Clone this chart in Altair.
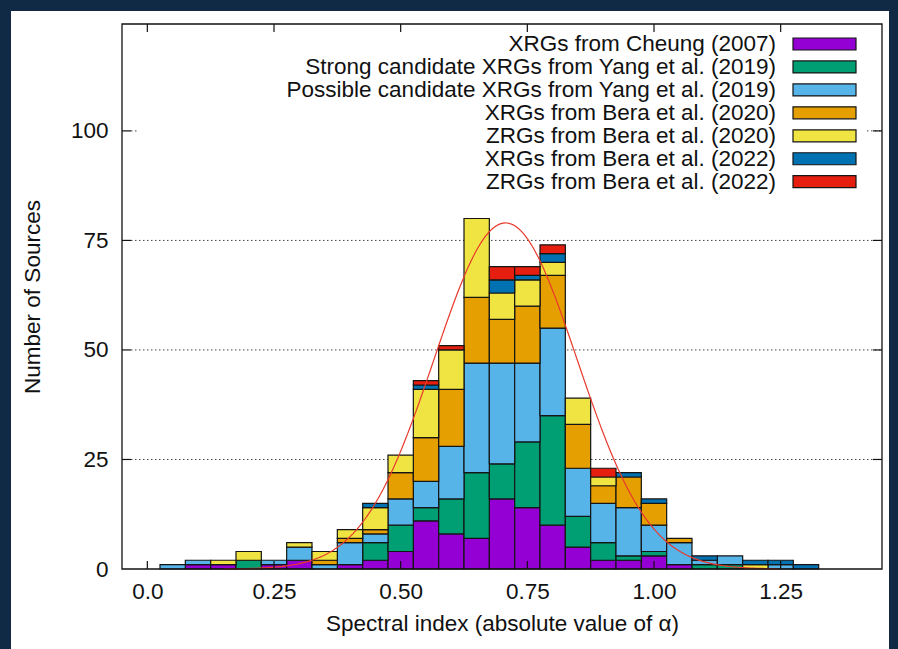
import altair as alt
import pandas as pd

# ---- data -------------------------------------------------------------
BIN_CENTERS = [0.05, 0.10, 0.15, 0.20, 0.25, 0.30, 0.35, 0.40, 0.45, 0.50,
               0.55, 0.60, 0.65, 0.70, 0.75, 0.80, 0.85, 0.90, 0.95, 1.00,
               1.05, 1.10, 1.15, 1.20, 1.25, 1.30]
BIN_WIDTH = 0.05

SERIES = [
    "XRGs from Cheung (2007)",
    "Strong candidate XRGs from Yang et al. (2019)",
    "Possible candidate XRGs from Yang et al. (2019)",
    "XRGs from Bera et al. (2020)",
    "ZRGs from Bera et al. (2020)",
    "XRGs from Bera et al. (2022)",
    "ZRGs from Bera et al. (2022)",
]
COLORS = ["#9400d3", "#009e73", "#56b4e9", "#e69f00", "#f0e442", "#0072b2", "#e51e10"]

cheung_2007 = [0, 1, 1, 0, 1, 2, 0, 1, 2, 4, 11, 8, 7, 16, 14, 10, 5, 2, 2, 3, 1, 0, 0, 0, 0, 0]
yang_strong = [0, 0, 0, 2, 0, 0, 0, 0, 4, 6, 3, 8, 15, 8, 15, 25, 7, 4, 1, 1, 0, 1, 1, 0, 0, 0]
yang_possible = [1, 1, 0, 0, 1, 3, 1, 5, 2, 6, 6, 12, 25, 23, 18, 20, 11, 9, 11, 6, 5, 1, 2, 0, 1, 0]
bera20_xrg = [0, 0, 0, 0, 0, 0, 1, 1, 1, 6, 10, 13, 15, 10, 13, 12, 10, 4, 7, 5, 1, 0, 0, 0, 0, 0]
bera20_zrg = [0, 0, 1, 2, 0, 1, 2, 2, 5, 4, 11, 9, 18, 6, 6, 3, 6, 2, 0, 0, 0, 0, 0, 1, 0, 0]
bera22_xrg = [0, 0, 0, 0, 0, 0, 0, 0, 1, 0, 1, 0, 0, 3, 1, 2, 0, 0, 1, 1, 0, 1, 0, 1, 1, 1]
bera22_zrg = [0, 0, 0, 0, 0, 0, 0, 0, 0, 0, 1, 1, 0, 3, 2, 2, 0, 2, 0, 0, 0, 0, 0, 0, 0, 0]
COUNTS = [cheung_2007, yang_strong, yang_possible, bera20_xrg, bera20_zrg, bera22_xrg, bera22_zrg]

# Gaussian fit to the total distribution
FIT_PEAK = 79.0
FIT_MEAN = 0.707
FIT_SIGMA = 0.141

X_TICKS = [0.0, 0.25, 0.50, 0.75, 1.00, 1.25]
Y_TICKS = [0, 25, 50, 75, 100]
X_DOMAIN = [-0.05, 1.45]
Y_DOMAIN = [0, 124.4]

# ---- layout -----------------------------------------------------------
W, H = 760, 545
FONT = "Liberation Sans"
FS = 22.5
KEY_FS = 22.5
NAVY = "#102a46"

rows = []
for order, (name, vals) in enumerate(zip(SERIES, COUNTS)):
    for c, n in zip(BIN_CENTERS, vals):
        rows.append({"center": c, "series": name, "order": order, "n": n})
hist = pd.DataFrame(rows)

xs = alt.Scale(domain=X_DOMAIN, nice=False, zero=False)
ys = alt.Scale(domain=Y_DOMAIN, nice=False, zero=False)
one = alt.Data(values=[{}])

# navy border strips round the white page (left, top, right)
border = [
    alt.Chart(one).mark_rect(color=NAVY).encode(
        x=alt.value(-122), x2=alt.value(-111), y=alt.value(-24), y2=alt.value(H + 80)),
    alt.Chart(one).mark_rect(color=NAVY).encode(
        x=alt.value(-122), x2=alt.value(W + 16), y=alt.value(-24), y2=alt.value(-13)),
    alt.Chart(one).mark_rect(color=NAVY).encode(
        x=alt.value(767), x2=alt.value(W + 16), y=alt.value(-24), y2=alt.value(H + 80)),
]

grid = alt.Chart(pd.DataFrame({"v": Y_TICKS[1:]})).mark_rule(
    color="#444", strokeWidth=1, strokeDash=[1.5, 2.5]
).encode(y=alt.Y("v:Q", scale=ys), x=alt.value(9), x2=alt.value(W))

# opaque key box
key_box = alt.Chart(one).mark_rect(color="white").encode(
    x=alt.value(17), x2=alt.value(744), y=alt.value(2), y2=alt.value(170)
)

bars = (
    alt.Chart(hist)
    .transform_filter(alt.datum.n > 0)
    .transform_stack(stack="n", groupby=["center"], sort=[alt.SortField("order")], as_=["y0", "y1"])
    .transform_calculate(x0=f"datum.center - {BIN_WIDTH / 2}", x1=f"datum.center + {BIN_WIDTH / 2}")
    .mark_rect(stroke="#151515", strokeWidth=1.2)
    .encode(
        x=alt.X("x0:Q", scale=xs),
        x2="x1:Q",
        y=alt.Y("y0:Q", scale=ys),
        y2="y1:Q",
        color=alt.Color("series:N", scale=alt.Scale(domain=SERIES, range=COLORS), legend=None),
    )
)

fit = (
    alt.Chart(alt.sequence(0.15, 1.25, 0.004, as_="a"))
    .transform_calculate(
        g=f"{FIT_PEAK} * exp(-pow(datum.a - {FIT_MEAN}, 2) / (2 * {FIT_SIGMA} * {FIT_SIGMA}))"
    )
    .mark_line(color="#e8392c", strokeWidth=1.2)
    .encode(x=alt.X("a:Q", scale=xs), y=alt.Y("g:Q", scale=ys))
)

frame = alt.Chart(one).mark_rect(fillOpacity=0, stroke="#111", strokeWidth=1.3).encode(
    x=alt.value(0), x2=alt.value(W), y=alt.value(0), y2=alt.value(H)
)

xt = pd.DataFrame({"v": X_TICKS})
yt = pd.DataFrame({"v": Y_TICKS[1:]})
tick_style = dict(color="#111", strokeWidth=1.2)
ticks = [
    alt.Chart(xt).mark_rule(**tick_style).encode(
        x=alt.X("v:Q", scale=xs), y=alt.value(H), y2=alt.value(H - 8)),
    alt.Chart(xt).mark_rule(**tick_style).encode(
        x=alt.X("v:Q", scale=xs), y=alt.value(0), y2=alt.value(8)),
    alt.Chart(yt).mark_rule(**tick_style).encode(
        y=alt.Y("v:Q", scale=ys), x=alt.value(0), x2=alt.value(9)),
    alt.Chart(yt).mark_rule(**tick_style).encode(
        y=alt.Y("v:Q", scale=ys), x=alt.value(W - 9), x2=alt.value(W)),
]

# key: right-aligned labels with colour swatches to their right
key_layers = []
for i, (name, col) in enumerate(zip(SERIES, COLORS)):
    yc = 20 + 22.95 * i
    key_layers.append(
        alt.Chart(alt.Data(values=[{"label": name}])).mark_text(
            align="right", baseline="middle", font=FONT, fontSize=KEY_FS, color="#111"
        ).encode(text="label:N", x=alt.value(654), y=alt.value(yc))
    )
    key_layers.append(
        alt.Chart(one).mark_rect(color=col, stroke="#151515", strokeWidth=1.2).encode(
            x=alt.value(671), x2=alt.value(734), y=alt.value(yc - 6), y2=alt.value(yc + 6)
        )
    )

chart = (
    alt.layer(*border, grid, key_box, bars, fit, frame, *ticks, *key_layers)
    .encode(
        x=alt.X(
            "x0:Q", scale=xs,
            axis=alt.Axis(
                values=X_TICKS, title="Spectral index (absolute value of α)",
                labelExpr="datum.value == 0 ? '0.0' : format(datum.value, '.2f')",
                labelPadding=11, titlePadding=10,
            ),
        ),
        y=alt.Y(
            "y0:Q", scale=ys,
            axis=alt.Axis(values=Y_TICKS, format="d", title="Number of Sources",
                          labelPadding=14, titlePadding=26),
        ),
    )
    .properties(
        width=W, height=H,
        padding={"left": 122, "top": 24, "right": 16, "bottom": 80},
        autosize=alt.AutoSizeParams(type="none"),
    )
    .configure(background="white")
    .configure_view(stroke=None)
    .configure_axis(
        labelFont=FONT, titleFont=FONT, labelFontSize=FS, titleFontSize=FS,
        labelColor="#111", titleColor="#111", titleFontWeight="normal",
        ticks=False, domain=False, grid=False,
    )
)

chart.save("out.html", embed_options={"renderer": "svg", "actions": False})
